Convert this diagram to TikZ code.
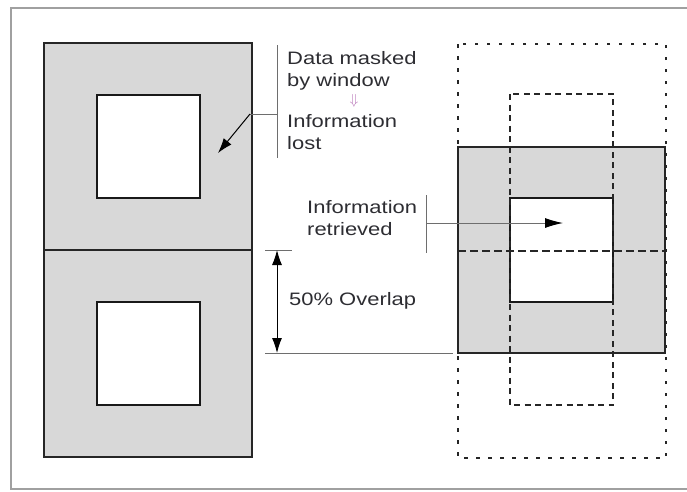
\documentclass[tikz,border=0pt]{standalone}
\usepackage{fontspec}
\setmainfont{Liberation Sans}
\newfontfamily\labelfont[FakeStretch=1.22]{Liberation Sans}
\usetikzlibrary{arrows.meta,positioning}
\definecolor{shade}{RGB}{216,216,216}
\definecolor{framegray}{RGB}{160,160,160}
\definecolor{linegray}{RGB}{110,110,110}
\definecolor{txt}{RGB}{45,45,50}
\definecolor{pinkarrow}{RGB}{185,120,185}
\tikzset{
  block/.style={fill=shade, draw=black!85, line width=2pt},
  hole/.style={fill=white, draw=black!90, line width=2pt},
  dotbox/.style={draw=black!85, line width=2pt, dash pattern=on 3.5pt off 8.5pt},
  dashbox/.style={draw=black!85, line width=2pt, dash pattern=on 6pt off 4.5pt},
  lead/.style={draw=linegray, line width=1pt},
  label/.style={font=\labelfont\fontsize{18}{22}\selectfont, text=txt, inner sep=0pt},
  head/.style={-{Latex[length=15pt,width=10pt]}}
}
\begin{document}
\begin{tikzpicture}[x=1pt,y=-1pt]
      \useasboundingbox (0,0) rectangle (687,491);
      \draw[framegray, line width=2.2pt] (690,8) -- (11,8) -- (11,489) -- (690,489);
      % left column, two windows
      \draw[block] (44,43) rectangle (252,250);
      \draw[block] (44,250) rectangle (252,457);
      \draw[hole] (97,95) rectangle (200,198);
      \draw[hole] (97,302) rectangle (200,405);
      % right column, overlapped windows
      \draw[block] (458,147) rectangle (665,353);
      \draw[hole] (510,198) rectangle (613,302);
      \draw[dotbox] (458,44) rectangle (666,458);
      \draw[dashbox] (510,94) rectangle (613,405);
      \draw[dashbox, line width=2.6pt, dash pattern=on 8pt off 4pt] (458,251) -- (665,251);
      % masked data
      \node[label, anchor=north west, align=left] (mask) at (287,51) {Data masked\\by window};
      \node[label, anchor=center, text=pinkarrow, font=\fontsize{15}{15}\selectfont] (down) at (354,101) {$\Downarrow$};
      \node[label, anchor=north west, align=left] (lost) at (287,114) {Information\\lost};
      \coordinate (mtop) at (277,45);
      \coordinate (mbot) at (277,158);
      \coordinate (mjoin) at (277,114);
      \coordinate (mbend) at (250,114);
      \coordinate (mtip) at (218,153);
      \draw[lead] (mtop) -- (mbot);
      \draw[lead] (mjoin) -- (mbend);
      \draw[black, line width=1pt, head] (mbend) -- (mtip);
      % retrieved data
      \node[label, anchor=north west, align=left] (got) at (307,200) {Information\\retrieved};
      \coordinate (gtop) at (426,195);
      \coordinate (gbot) at (426,253);
      \coordinate (gjoin) at (426,223);
      \coordinate (gtip) at (563,223);
      \draw[lead] (gtop) -- (gbot);
      \draw[lead, -{Latex[length=18pt,width=10pt,black]}] (gjoin) -- (gtip);
      % overlap
      \coordinate (otop) at (277,250);
      \coordinate (obot) at (277,353);
      \draw[lead] (265,250) -- (292,250);
      \draw[lead] (265,353) -- (453,353);
      \draw[black, line width=1pt, {Latex[length=15pt,width=10pt]}-{Latex[length=15pt,width=10pt]}] (otop) -- (obot);
      \node[label, anchor=base west] (ovl) at (289,305) {50\% Overlap};
      \end{tikzpicture}
\end{document}
